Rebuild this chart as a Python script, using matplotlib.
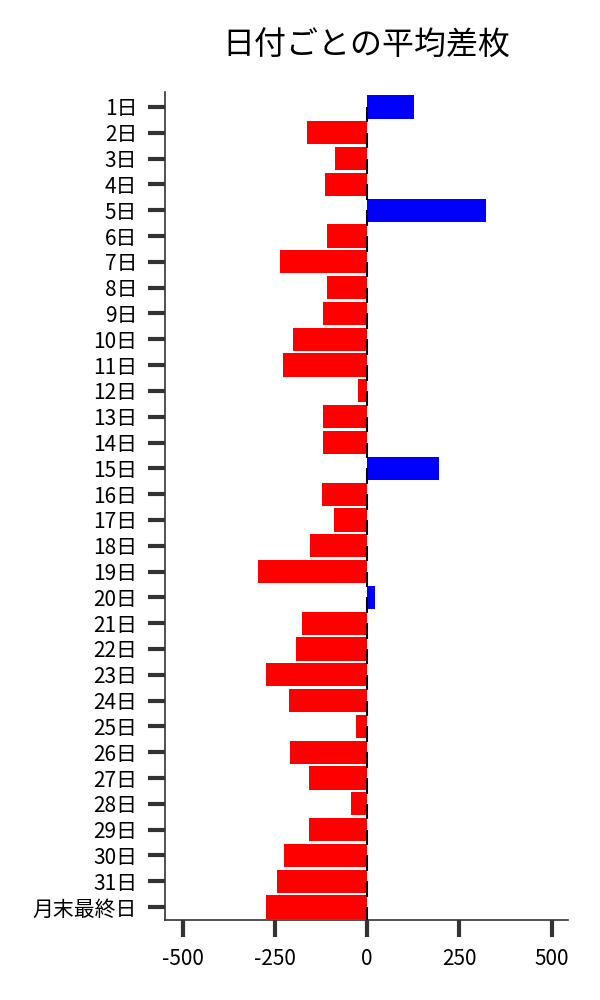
import numpy as np
import matplotlib.pyplot as plt

plt.rcParams['font.family'] = ['Noto Sans CJK JP', 'DejaVu Sans']

days = [f"{d}日" for d in range(1, 32)] + ["月末最終日"]
diff = [127, -163, -87, -114, 322, -108, -236, -108, -119, -200,
        -228, -24, -119, -119, 195, -122, -89, -154, -295, 22,
        -176, -192, -274, -211, -30, -209, -157, -43, -157, -225,
        -244, -274]

colors = ["blue" if v > 0 else "red" for v in diff]
y = np.arange(len(days))

fig = plt.figure(figsize=(6, 10), dpi=100)
ax = fig.add_axes([0.275, 0.08, 0.672, 0.828])

ax.barh(y, diff, height=0.9, color=colors, zorder=2)
# small black marks at zero
ax.vlines(np.zeros(len(y)), y + 0.0, y + 0.6, color="black", lw=1.5, zorder=3)

ax.set_yticks(y)
ax.set_yticklabels(days)
ax.set_ylim(len(days) - 0.5, -0.58)
ax.set_xlim(-548, 545)
ax.set_xticks([-500, -250, 0, 250, 500])
ax.set_xticklabels(["-500", "-250", "0", "250", "500"])

ax.spines["top"].set_visible(False)
ax.spines["right"].set_visible(False)
for s in ["left", "bottom"]:
    ax.spines[s].set_color("#333333")
    ax.spines[s].set_linewidth(1.2)
ax.tick_params(axis="both", length=12, width=3, color="#333333", pad=8, labelsize=15)

ax.set_title("日付ごとの平均差枚", fontsize=23, pad=27)

fig.savefig("out.png")
